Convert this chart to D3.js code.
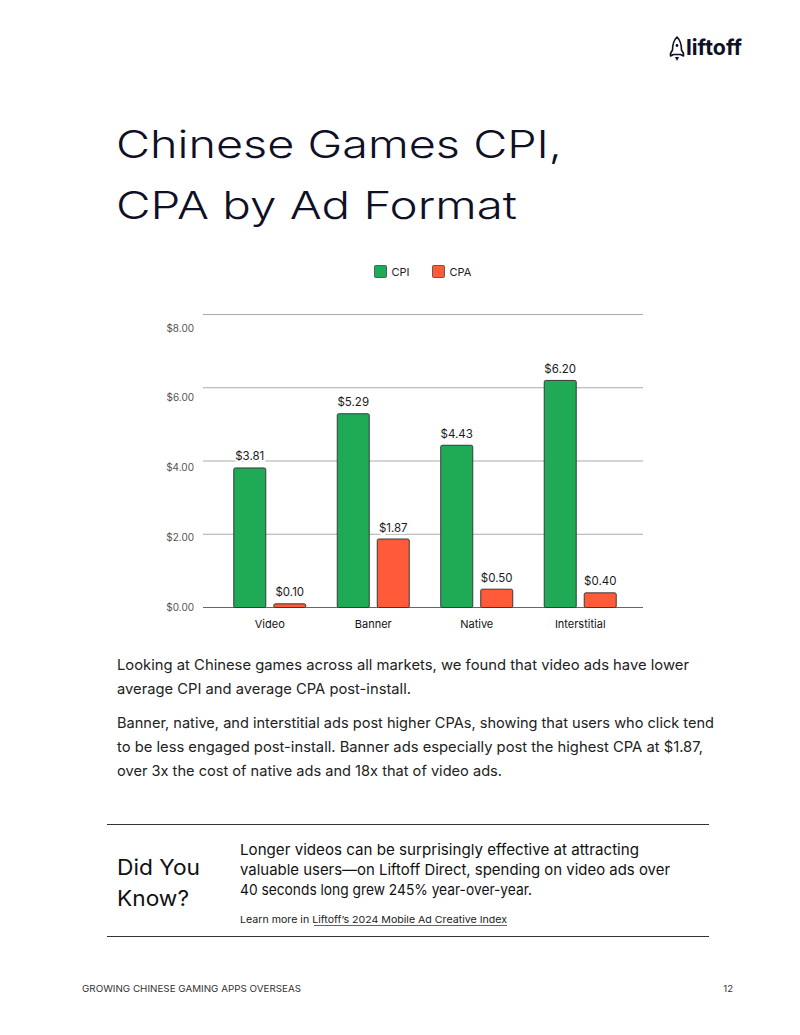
<!DOCTYPE html>
<html>
<head>
<meta charset="utf-8">
<script src="https://cdn.jsdelivr.net/npm/d3@7"></script>
<style>
    html, body { margin: 0; padding: 0; background: #fff; }
    svg text { font-family: Inter, "Open Sans", sans-serif; }
</style>
</head>
<body>
<svg id="page" width="800" height="1035"></svg>
<script>
// chart data
const categories = ["Video", "Banner", "Native", "Interstitial"];
const seriesNames = ["CPI", "CPA"];
const cpiValues = [3.81, 5.29, 4.43, 6.20];
const cpaValues = [0.10, 1.87, 0.50, 0.40];
const tickValues = [0, 2, 4, 6, 8];
const tickLabels = ["$0.00", "$2.00", "$4.00", "$6.00", "$8.00"];

// page text
const titleLines = ["Chinese Games CPI,", "CPA by Ad Format"];
const bodyLines = [
    "Looking at Chinese games across all markets, we found that video ads have lower",
    "average CPI and average CPA post-install.",
    "Banner, native, and interstitial ads post higher CPAs, showing that users who click tend",
    "to be less engaged post-install. Banner ads especially post the highest CPA at $1.87,",
    "over 3x the cost of native ads and 18x that of video ads."
];
const noteLines = [
    "Longer videos can be surprisingly effective at attracting",
    "valuable users\u2014on Liftoff Direct, spending on video ads over",
    "40 seconds long grew 245% year-over-year."
];

const colors = { CPI: "#1faa55", CPA: "#ff5a3a" };
const ink = "#0f1026";

const svg = d3.select("#page");

function addText(s, x, y, size, opts = {}) {
    const t = svg.append("text")
        .attr("x", x)
        .attr("y", y)
        .attr("font-size", size)
        .attr("fill", opts.fill || "#1a1a1a")
        .attr("font-weight", opts.weight || 400)
        .attr("text-anchor", opts.anchor || "start")
        .text(s);
    if (opts.width) {
        t.attr("textLength", opts.width).attr("lengthAdjust", "spacingAndGlyphs");
    }
    return t;
}

// logo
const logo = svg.append("g").attr("fill", "none").attr("stroke", ink).attr("stroke-width", 1.6).attr("stroke-linejoin", "round");
logo.append("path")
    .attr("d", "M677,37 C673.5,40.5 672.5,45 672.5,50 L670.5,53.5 L670.5,56 L673.5,54.5 L680.5,54.5 L683.5,56 L683.5,53.5 L681.5,50 C681.5,45 680.5,40.5 677,37 Z");
logo.append("circle").attr("cx", 677).attr("cy", 45.5).attr("r", 1.4).attr("fill", ink).attr("stroke", "none");
logo.append("path").attr("d", "M675,57 L677,61 L679,57 Z").attr("fill", ink).attr("stroke", "none");
addText("liftoff", 686, 55, 22, { weight: 700, fill: ink, width: 56 });

// title
const titleWidths = [446, 401];
titleLines.forEach((s, i) => {
    addText(s, 116, 158 + i * 61, 38, { fill: ink, width: titleWidths[i], weight: 300 });
});

// chart scales
const x0 = d3.scaleBand()
    .domain(categories)
    .range([205, 645])
    .paddingOuter(0.126)
    .paddingInner(0);

const x1 = d3.scaleBand()
    .domain(seriesNames)
    .range([0, x0.bandwidth()])
    .paddingInner(0.175)
    .paddingOuter(0.381);

const y = d3.scaleLinear().domain([0, 8]).range([607, 314]);
// the tick labels in the source sit a little off their gridlines
const yLabel = d3.scaleLinear().domain([0, 8]).range([607, 328]);

const chart = svg.append("g").attr("class", "chart");

// gridlines
chart.append("g")
    .selectAll("line")
    .data(tickValues)
    .enter().append("line")
    .attr("x1", 203)
    .attr("x2", 643)
    .attr("y1", d => y(d) + 0.5)
    .attr("y2", d => y(d) + 0.5)
    .attr("stroke", d => d === 0 ? "#666" : "#aaa")
    .attr("stroke-width", 1);

// y labels
chart.append("g")
    .selectAll("text")
    .data(tickValues)
    .enter().append("text")
    .attr("x", 194)
    .attr("y", d => yLabel(d) + 3.5)
    .attr("text-anchor", "end")
    .attr("font-size", 10)
    .attr("fill", "#555")
    .text((d, i) => tickLabels[i]);

const rows = categories.map((c, i) => ({
    category: c,
    values: [
        { key: "CPI", value: cpiValues[i] },
        { key: "CPA", value: cpaValues[i] }
    ]
}));

const groups = chart.append("g")
    .selectAll("g")
    .data(rows)
    .enter().append("g")
    .attr("transform", d => `translate(${x0(d.category)},0)`);

groups.selectAll("rect")
    .data(d => d.values)
    .enter().append("rect")
    .attr("x", d => x1(d.key) + 0.5)
    .attr("y", d => y(d.value) + 0.5)
    .attr("width", x1.bandwidth() - 1)
    .attr("height", d => y(0) - y(d.value))
    .attr("rx", 1.5)
    .attr("fill", d => colors[d.key])
    .attr("stroke", "#3a3a3a")
    .attr("stroke-width", 1);

groups.selectAll("text.value")
    .data(d => d.values)
    .enter().append("text")
    .attr("class", "value")
    .attr("x", d => x1(d.key) + x1.bandwidth() / 2)
    .attr("y", d => y(d.value) - 7)
    .attr("text-anchor", "middle")
    .attr("font-size", 11.5)
    .attr("fill", "#1a1a1a")
    .attr("stroke", "#fff")
    .attr("stroke-width", 4)
    .attr("paint-order", "stroke")
    .text(d => "$" + d.value.toFixed(2));

// category labels
chart.append("g")
    .selectAll("text")
    .data(categories)
    .enter().append("text")
    .attr("x", d => x0(d) + x0.bandwidth() / 2)
    .attr("y", 628)
    .attr("text-anchor", "middle")
    .attr("font-size", 11)
    .attr("fill", "#111")
    .text(d => d);

// legend
const legend = chart.append("g")
    .selectAll("g")
    .data(seriesNames)
    .enter().append("g")
    .attr("transform", (d, i) => `translate(${374.5 + i * 58},265.5)`);

legend.append("rect")
    .attr("width", 12)
    .attr("height", 12)
    .attr("rx", 1)
    .attr("fill", d => colors[d])
    .attr("stroke", "#444")
    .attr("stroke-width", 0.8);

legend.append("text")
    .attr("x", 17)
    .attr("y", 10)
    .attr("font-size", 11)
    .attr("fill", "#222")
    .text(d => d);

// body copy
const bodyY = [670, 694, 728, 752, 776];
const bodyWidths = [572, 294, 597, 586, 385];
bodyLines.forEach((s, i) => {
    addText(s, 117, bodyY[i], 14.5, { fill: "#222", width: bodyWidths[i] });
});

// did you know box
svg.append("line").attr("x1", 107).attr("x2", 709).attr("y1", 824.5).attr("y2", 824.5).attr("stroke", "#333").attr("stroke-width", 1.2);
svg.append("line").attr("x1", 107).attr("x2", 709).attr("y1", 936.5).attr("y2", 936.5).attr("stroke", "#333").attr("stroke-width", 1.2);
addText("Did You", 117, 875, 21.5, { fill: "#111", width: 83 });
addText("Know?", 117, 906, 21.5, { fill: "#111", width: 72 });

const noteY = [855, 875, 895];
const noteWidths = [399, 430, 292];
noteLines.forEach((s, i) => {
    addText(s, 240, noteY[i], 15, { fill: "#111", width: noteWidths[i] });
});

const learn = svg.append("text")
    .attr("x", 240)
    .attr("y", 923)
    .attr("font-size", 9.5)
    .attr("fill", "#222")
    .attr("textLength", 267)
    .attr("lengthAdjust", "spacingAndGlyphs");
learn.append("tspan").text("Learn more in ");
learn.append("tspan").text("Liftoff\u2019s 2024 Mobile Ad Creative Index");
svg.append("line").attr("x1", 314).attr("x2", 507).attr("y1", 925.5).attr("y2", 925.5).attr("stroke", "#222").attr("stroke-width", 0.7);

// footer
addText("GROWING CHINESE GAMING APPS OVERSEAS", 82, 992, 9.5, { fill: "#333", width: 219 });
addText("12", 733, 992, 9.5, { fill: "#333", anchor: "end" });
</script>
</body>
</html>
